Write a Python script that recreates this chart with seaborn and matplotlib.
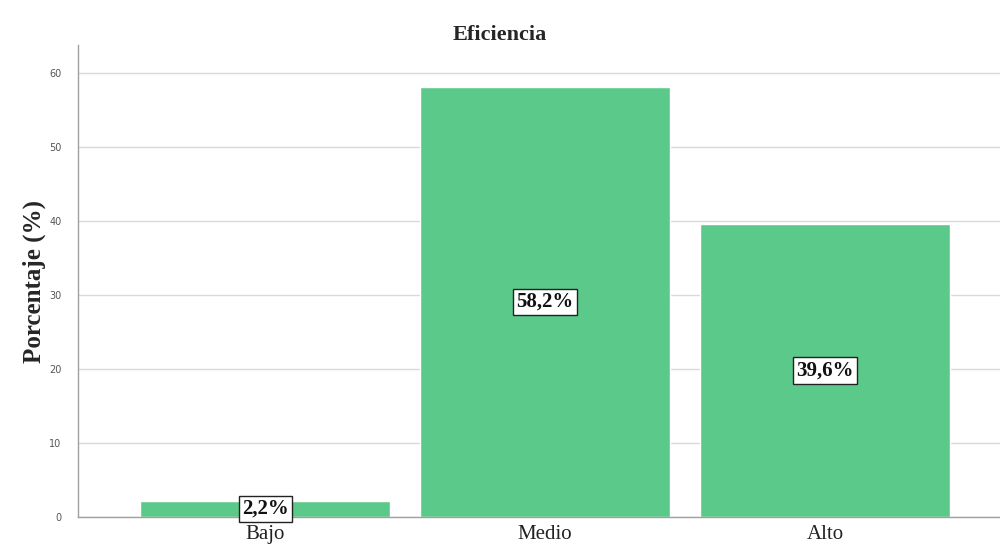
import matplotlib
matplotlib.use("Agg")
import matplotlib.pyplot as plt
import seaborn as sns
import pandas as pd

categories = ["Bajo", "Medio", "Alto"]
values = [2.2, 58.2, 39.6]
labels = ["2,2%", "58,2%", "39,6%"]
title = "Eficiencia"
ylabel = "Porcentaje (%)"

sns.set_theme(style="white")
plt.rcParams['font.family'] = ['Liberation Serif', 'DejaVu Serif']

df = pd.DataFrame({"cat": categories, "val": values})

fig = plt.figure(figsize=(10, 5.5), dpi=100)
ax = fig.add_axes([0.078, 0.06, 0.922, 0.858])
sns.barplot(data=df, x="cat", y="val", color="#5BC98A", saturation=1, width=0.893, ax=ax, zorder=2)

ax.set_ylim(0, 63.8)
ax.set_xlim(-0.668, 2.625)
ax.set_yticks([0, 10, 20, 30, 40, 50, 60])
ax.yaxis.grid(True, color="#d9d9d9", linewidth=1, zorder=0)
ax.set_axisbelow(True)
for s in ["top", "right"]:
    ax.spines[s].set_visible(False)
for s in ["left", "bottom"]:
    ax.spines[s].set_color("#a0a0a0")
    ax.spines[s].set_linewidth(1)

ax.tick_params(axis="y", labelsize=7, labelcolor="#555555", length=0, pad=12)
for t in ax.get_yticklabels():
    t.set_family("DejaVu Sans")
ax.tick_params(axis="x", labelsize=15, labelcolor="#222222", length=0, pad=6)

ax.set_xlabel("")
ax.set_ylabel(ylabel, fontsize=18, fontweight="bold", labelpad=2)
fig.suptitle(title, fontsize=16, fontweight="bold", y=0.955)

for i, (v, lab) in enumerate(zip(values, labels)):
    ax.text(i, v / 2, lab, ha="center", va="center", fontsize=15, fontweight="bold",
            color="#111111", zorder=5,
            bbox=dict(boxstyle="square,pad=0.15", facecolor="white", edgecolor="#222222", linewidth=1))

fig.savefig("out.png", dpi=100)
